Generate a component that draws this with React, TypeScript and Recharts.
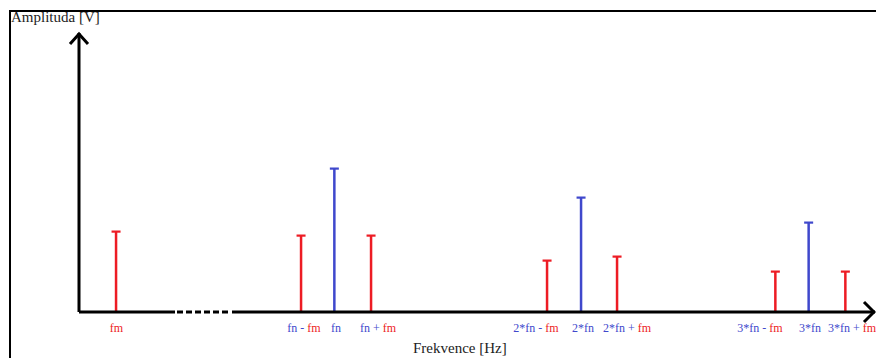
import React from 'react';
import { ComposedChart, Bar, Cell, XAxis, YAxis, ReferenceLine, ReferenceDot } from 'recharts';

// Frequency positions (axis units) of every spectral line
const linePositions = [36.7, 221.7, 255, 291.7, 467.7, 501.7, 537.7, 696, 729.3, 766];
// Amplitudes (axis units)
const lineAmplitudes = [81, 77, 144, 77, 52, 115, 56, 41, 90, 41];
// 'c' = carrier harmonic (blue), 's' = sideband / modulating (red)
const lineKinds = ['s', 's', 'c', 's', 's', 'c', 's', 's', 'c', 's'];
// Tick labels and their positions
const tickLabels = ['fm', 'fn - fm', 'fn', 'fn + fm', '2*fn - fm', '2*fn', '2*fn + fm', '3*fn - fm', '3*fn', '3*fn + fm'];
const tickPositions = [37.5, 225, 257, 299, 457, 504, 548, 681, 731, 773];

const X_MAX = 796;
const Y_MAX = 279;
const BREAK_START = 96;
const BREAK_END = 153;

const RED = '#ED1C24';
const BLUE = '#3F48CC';
const FONT = '"Liberation Serif", "Times New Roman", serif';

const data = linePositions.map((f, i) => ({ f, amp: lineAmplitudes[i], kind: lineKinds[i] }));

const Stem = (props: any) => {
  const { x, y, width, height, fill } = props;
  if (height == null || isNaN(height)) return null;
  const cx = x + width / 2;
  return (
    <g>
      <rect x={cx - 1.25} y={y} width={2.5} height={height} fill={fill} />
      <rect x={cx - 4.5} y={y - 0.5} width={9} height={2.2} fill={fill} />
    </g>
  );
};

const Tick = (props: any) => {
  const { x, y, payload } = props;
  const idx = tickPositions.indexOf(payload.value);
  const label = idx >= 0 ? tickLabels[idx] : '';
  const parts = label.split(/(fm)/).filter((p) => p.length > 0);
  return (
    <text x={x} y={y + 20} textAnchor="middle" fontFamily={FONT} fontSize={12}>
      {parts.map((p, i) => (
        <tspan key={i} fill={p === 'fm' ? RED : BLUE}>{p}</tspan>
      ))}
    </text>
  );
};

const UpArrow = (props: any) => {
  const { cx, cy } = props;
  return <path d={`M${cx - 9},${cy + 11} L${cx},${cy + 1} L${cx + 9},${cy + 11}`} stroke="#000" strokeWidth={3} fill="none" />;
};

const RightArrow = (props: any) => {
  const { cx, cy } = props;
  return <path d={`M${cx - 11},${cy - 10} L${cx - 1},${cy} L${cx - 11},${cy + 10}`} stroke="#000" strokeWidth={3} fill="none" />;
};

export default function App() {
  return (
    <div style={{ position: 'absolute', left: 0, top: 0, width: 876, height: 358, background: '#fff', overflow: 'hidden' }}>
      <div style={{ position: 'absolute', left: 9, top: 10, width: 876, height: 360, borderTop: '2px solid #000', borderLeft: '2px solid #000' }} />
      <div style={{ position: 'absolute', left: 11, top: 8, fontFamily: FONT, fontSize: 15, color: '#222', lineHeight: '18px' }}>Amplituda [V]</div>
      <div style={{ position: 'absolute', left: 413, top: 339, fontFamily: FONT, fontSize: 15, color: '#222', lineHeight: '18px' }}>Frekvence [Hz]</div>
      <div style={{ position: 'absolute', left: 0, top: 0 }}>
        <ComposedChart width={876} height={358} data={data} margin={{ top: 33, right: 1, left: 79, bottom: 0 }}>
          <XAxis
            dataKey="f"
            type="number"
            domain={[0, X_MAX]}
            allowDataOverflow
            ticks={tickPositions}
            interval={0}
            tick={<Tick />}
            tickLine={false}
            axisLine={false}
            tickSize={0}
            tickMargin={0}
            height={46}
          />
          <YAxis hide domain={[0, Y_MAX]} allowDataOverflow />
          <ReferenceLine segment={[{ x: 0, y: 0 }, { x: BREAK_START, y: 0 }]} stroke="#000" strokeWidth={3} />
          <ReferenceLine segment={[{ x: BREAK_START + 2, y: 0 }, { x: BREAK_END - 2, y: 0 }]} stroke="#000" strokeWidth={3} strokeDasharray="6 3" />
          <ReferenceLine segment={[{ x: BREAK_END, y: 0 }, { x: X_MAX, y: 0 }]} stroke="#000" strokeWidth={3} />
          <ReferenceLine segment={[{ x: 0, y: 0 }, { x: 0, y: Y_MAX }]} stroke="#000" strokeWidth={3} />
          <ReferenceDot x={0} y={Y_MAX} shape={<UpArrow />} ifOverflow="visible" />
          <ReferenceDot x={X_MAX} y={0} shape={<RightArrow />} ifOverflow="visible" />
          <Bar dataKey="amp" barSize={10} shape={<Stem />} isAnimationActive={false}>
            {data.map((d, i) => (
              <Cell key={i} fill={d.kind === 'c' ? BLUE : RED} />
            ))}
          </Bar>
        </ComposedChart>
      </div>
    </div>
  );
}
